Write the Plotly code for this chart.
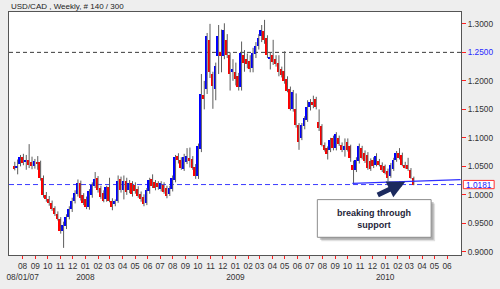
import numpy as np
import pandas as pd
import plotly.graph_objects as go

# ---------------- data (weekly USD/CAD candles) ----------------
first_week = "2007-07-10"
opens = [1.050, 1.047, 1.055, 1.066, 1.058, 1.062, 1.058, 1.050, 1.058, 1.058,
         1.030, 1.000, 0.993, 0.986, 0.977, 0.967, 0.958, 0.936, 0.946, 0.961,
         0.975, 0.990, 1.001, 1.020, 0.999, 0.992, 0.979, 1.000, 1.016, 1.029,
         1.012, 1.004, 0.993, 1.014, 0.990, 0.984, 0.989, 1.027, 1.008, 1.024,
         1.008, 1.020, 1.018, 1.010, 1.002, 0.997, 0.985, 1.006, 1.028, 1.022,
         1.020, 1.010, 1.018, 1.012, 1.002, 1.010, 1.026, 1.068, 1.062, 1.046,
         1.058, 1.064, 1.063, 1.049, 1.033, 1.080, 1.175, 1.186, 1.272, 1.212,
         1.186, 1.243, 1.250, 1.243, 1.272, 1.246, 1.217, 1.215, 1.209, 1.189,
         1.245, 1.238, 1.235, 1.222, 1.248, 1.262, 1.278, 1.288, 1.275, 1.239,
         1.245, 1.238, 1.232, 1.220, 1.218, 1.203, 1.186, 1.151, 1.150, 1.122,
         1.100, 1.120, 1.131, 1.154, 1.163, 1.169, 1.128, 1.120, 1.088, 1.082,
         1.079, 1.099, 1.082, 1.100, 1.088, 1.079, 1.093, 1.085, 1.053, 1.044,
         1.060, 1.082, 1.073, 1.070, 1.059, 1.062, 1.053, 1.059, 1.053, 1.050,
         1.042, 1.033, 1.045, 1.062, 1.073, 1.070, 1.053, 1.053, 1.044, 1.030]
highs = [1.058, 1.062, 1.070, 1.072, 1.070, 1.089, 1.067, 1.063, 1.068, 1.060,
         1.034, 1.005, 0.998, 0.990, 0.980, 0.971, 0.961, 0.953, 0.966, 0.980,
         0.995, 1.008, 1.027, 1.025, 1.003, 0.997, 1.010, 1.022, 1.040, 1.033,
         1.016, 1.008, 1.016, 1.030, 0.994, 0.992, 1.034, 1.032, 1.034, 1.030,
         1.026, 1.024, 1.022, 1.015, 1.006, 1.001, 1.012, 1.030, 1.036, 1.026,
         1.024, 1.024, 1.022, 1.016, 1.016, 1.034, 1.070, 1.073, 1.066, 1.072,
         1.082, 1.083, 1.068, 1.054, 1.090, 1.212, 1.200, 1.284, 1.300, 1.216,
         1.232, 1.298, 1.290, 1.301, 1.282, 1.250, 1.238, 1.232, 1.214, 1.269,
         1.254, 1.248, 1.245, 1.258, 1.268, 1.282, 1.298, 1.307, 1.280, 1.249,
         1.272, 1.245, 1.245, 1.225, 1.252, 1.208, 1.190, 1.184, 1.178, 1.126,
         1.126, 1.138, 1.166, 1.168, 1.174, 1.172, 1.150, 1.124, 1.092, 1.085,
         1.100, 1.104, 1.110, 1.104, 1.092, 1.099, 1.099, 1.088, 1.060, 1.066,
         1.090, 1.086, 1.078, 1.075, 1.064, 1.066, 1.073, 1.063, 1.057, 1.053,
         1.046, 1.056, 1.065, 1.077, 1.082, 1.074, 1.058, 1.065, 1.047, 1.032]
lows = [1.043, 1.036, 1.050, 1.052, 1.044, 1.047, 1.045, 1.046, 1.044, 1.025,
        0.995, 0.988, 0.981, 0.972, 0.963, 0.955, 0.932, 0.907, 0.940, 0.957,
        0.970, 0.985, 0.997, 0.990, 0.982, 0.975, 0.974, 0.995, 1.012, 1.004,
        0.993, 0.987, 0.988, 0.987, 0.973, 0.980, 0.986, 1.004, 0.992, 1.000,
        1.003, 0.997, 1.002, 0.995, 0.988, 0.980, 0.982, 1.002, 1.012, 1.008,
        1.009, 1.006, 1.002, 0.994, 0.998, 1.006, 1.022, 1.055, 1.044, 1.042,
        1.054, 1.048, 1.044, 1.028, 1.028, 1.075, 1.150, 1.177, 1.205, 1.151,
        1.166, 1.212, 1.215, 1.238, 1.240, 1.183, 1.200, 1.192, 1.183, 1.183,
        1.216, 1.222, 1.215, 1.215, 1.240, 1.255, 1.268, 1.265, 1.240, 1.220,
        1.228, 1.225, 1.208, 1.206, 1.195, 1.180, 1.148, 1.146, 1.118, 1.079,
        1.096, 1.115, 1.128, 1.148, 1.152, 1.150, 1.112, 1.085, 1.076, 1.062,
        1.075, 1.078, 1.078, 1.086, 1.075, 1.067, 1.076, 1.058, 1.020, 1.040,
        1.055, 1.062, 1.056, 1.044, 1.042, 1.047, 1.050, 1.050, 1.040, 1.036,
        1.024, 1.030, 1.042, 1.058, 1.062, 1.050, 1.046, 1.042, 1.028, 1.017]
closes = [1.047, 1.051, 1.066, 1.056, 1.061, 1.053, 1.051, 1.059, 1.055, 1.030,
          0.999, 0.993, 0.985, 0.976, 0.967, 0.958, 0.937, 0.948, 0.962, 0.975,
          0.990, 1.004, 1.020, 0.994, 0.985, 0.979, 1.006, 1.018, 1.027, 1.008,
          0.997, 0.990, 1.013, 0.990, 0.978, 0.989, 1.025, 1.008, 1.025, 1.005,
          1.021, 1.001, 1.006, 0.998, 0.992, 0.984, 1.008, 1.026, 1.015, 1.012,
          1.013, 1.020, 1.005, 0.998, 1.012, 1.030, 1.067, 1.061, 1.048, 1.066,
          1.068, 1.061, 1.047, 1.033, 1.085, 1.177, 1.168, 1.278, 1.215, 1.191,
          1.226, 1.278, 1.244, 1.290, 1.246, 1.212, 1.220, 1.203, 1.189, 1.249,
          1.232, 1.229, 1.220, 1.249, 1.262, 1.276, 1.290, 1.272, 1.246, 1.242,
          1.233, 1.229, 1.215, 1.210, 1.200, 1.183, 1.151, 1.180, 1.122, 1.092,
          1.122, 1.134, 1.154, 1.163, 1.157, 1.154, 1.117, 1.088, 1.079, 1.071,
          1.096, 1.082, 1.107, 1.090, 1.079, 1.085, 1.079, 1.065, 1.044, 1.062,
          1.085, 1.065, 1.059, 1.047, 1.045, 1.050, 1.068, 1.053, 1.044, 1.039,
          1.030, 1.053, 1.062, 1.073, 1.065, 1.053, 1.048, 1.045, 1.030, 1.0181]

resistance_level = 1.25
trend_dates = ["2009-10-13", "2010-07-04"]
trend_values = [1.0200, 1.0268]
y_tick_values = [0.90, 0.95, 1.00, 1.05, 1.10, 1.15, 1.20, 1.25, 1.30]
month_tick_start, month_tick_end = "2007-08-01", "2010-06-01"
title_text = "USD/CAD , Weekly, # 140 / 300"
note_text = "breaking through<br>support"

# ---------------- figure ----------------
W, H = 500, 289
ML, MR, MT, MB = 7, 39, 12, 30
PW, PH = W - ML - MR, H - MT - MB
X_RANGE = [pd.Timestamp("2007-06-28 19:00"), pd.Timestamp("2010-07-04 21:00")]
MS_PER_PX = (X_RANGE[1] - X_RANGE[0]) / pd.Timedelta(milliseconds=1) / PW


def px_x(p):  # pixel -> paper x
    return (p - ML) / PW


def px_y(p):  # pixel -> paper y
    return (H - MB - p) / PH


dates = pd.date_range(first_week, periods=len(opens), freq="7D")
o = np.array(opens); c = np.array(closes); hi = np.array(highs); lo = np.array(lows)
base = np.minimum(o, c)
height = np.maximum(np.abs(c - o), 0.0008)
colors = ["#0000ff" if cc >= oo else "#ff0000" for oo, cc in zip(o, c)]

wick_shift = pd.Timedelta(milliseconds=1.2 * MS_PER_PX)
wx, wy = [], []
for d, l, h in zip(dates, lo, hi):
    wx += [d + wick_shift, d + wick_shift, None]
    wy += [l, h, None]

fig = go.Figure()
fig.add_trace(go.Scatter(x=wx, y=wy, mode="lines", line=dict(color="#5c5c5c", width=1),
                         hoverinfo="skip", showlegend=False))
fig.add_trace(go.Bar(x=dates, y=height, base=base, width=2.1 * MS_PER_PX,
                     marker=dict(color=colors, line=dict(width=0)), showlegend=False,
                     hoverinfo="skip"))

# month ticks
months = pd.date_range(month_tick_start, month_tick_end, freq="MS")
tick_text = []
for i, m in enumerate(months):
    t = f"{m.month:02d}"
    if i == 0:
        t += "<br>" + m.strftime("%m/%d/%y")
    elif m.month == 1:
        t += f"<br>{m.year}"
    tick_text.append(t)

y_text = []
for v in y_tick_values:
    s = f"{v:.4f}"
    if abs(v - resistance_level) < 1e-9:
        s = f"<span style='color:#2a2aff'>{s}</span>"
    y_text.append(s)

last_close = closes[-1]

shapes = [
    dict(type="line", xref="paper", yref="y", x0=0, x1=1, y0=resistance_level, y1=resistance_level,
         line=dict(color="#3c3c3c", width=1, dash="4px,3px"), layer="below"),
    dict(type="line", xref="paper", yref="y", x0=0, x1=1, y0=last_close, y1=last_close,
         line=dict(color="#3b3bff", width=1, dash="5px,3px"), layer="below"),
    dict(type="line", xref="x", yref="y", x0=trend_dates[0], x1=trend_dates[1],
         y0=trend_values[0], y1=trend_values[1], line=dict(color="#2f2fff", width=1.2)),
]
# note box with shadow
bx0, bx1, by0, by1 = 316.7, 431, 202.7, 241
for off, col in [(4, "rgba(0,0,0,0.12)"), (2.5, "rgba(0,0,0,0.22)")]:
    shapes.append(dict(type="rect", xref="paper", yref="paper",
                       x0=px_x(bx0 + off), x1=px_x(bx1 + off), y0=px_y(by1 + off), y1=px_y(by0 + off),
                       fillcolor=col, line=dict(width=0)))
shapes.append(dict(type="rect", xref="paper", yref="paper",
                   x0=px_x(bx0), x1=px_x(bx1), y0=px_y(by1), y1=px_y(by0),
                   fillcolor="white", line=dict(color="#8c8c8c", width=1)))
# last price box
shapes.append(dict(type="rect", xref="paper", yref="y",
                   x0=px_x(463.3), x1=px_x(494.3),
                   y0=last_close - 4.2 / 579, y1=last_close + 4.2 / 579,
                   fillcolor="white", line=dict(color="#ff3030", width=1)))

annotations = [
    dict(text=title_text, xref="paper", yref="paper", x=px_x(7.3), y=px_y(6.3),
         xanchor="left", yanchor="middle", showarrow=False,
         font=dict(size=8, color="#222222")),
    dict(text="<b>" + note_text.replace("<br>", "</b><br><b>") + "</b>",
         xref="paper", yref="paper", x=px_x((bx0 + bx1) / 2), y=px_y(222),
         xanchor="center", yanchor="middle", showarrow=False,
         font=dict(size=9, color="#1f1f3a", family="Liberation Sans, Arial")),
    dict(text=f"{last_close:.4f}", xref="paper", yref="y", x=px_x(478.8), y=last_close,
         xanchor="center", yanchor="middle", showarrow=False,
         font=dict(size=8.3, color="#2020ff")),
    dict(text="", xref="paper", yref="paper", x=px_x(405), y=px_y(184.5), ax=-29, ay=14,
         showarrow=True, arrowhead=2, arrowsize=0.7, arrowwidth=5, arrowcolor="#1c2a5e",
         standoff=0),
]

fig.update_layout(
    width=W, height=H,
    margin=dict(l=ML, r=MR, t=MT, b=MB, pad=0),
    paper_bgcolor="#eeeeee", plot_bgcolor="white",
    font=dict(family="Liberation Sans, Arial, sans-serif", size=8.3, color="#333333"),
    showlegend=False, bargap=0,
    shapes=shapes, annotations=annotations,
    xaxis=dict(type="date", range=X_RANGE,
               tickvals=list(months), ticktext=tick_text, tickangle=0,
               ticks="outside", ticklen=3, tickcolor="#ff2020", tickwidth=1,
               showgrid=False, zeroline=False, showline=True, linecolor="#555555",
               linewidth=1, mirror=True, fixedrange=True),
    yaxis=dict(range=[0.8945, 1.3208], side="right", tickvals=y_tick_values, ticktext=y_text,
               ticks="outside", ticklen=4, tickcolor="#ff2020", tickwidth=1,
               showgrid=False, zeroline=False, showline=True, linecolor="#555555",
               linewidth=1, mirror=True, fixedrange=True),
)

fig.write_html("out.html")
